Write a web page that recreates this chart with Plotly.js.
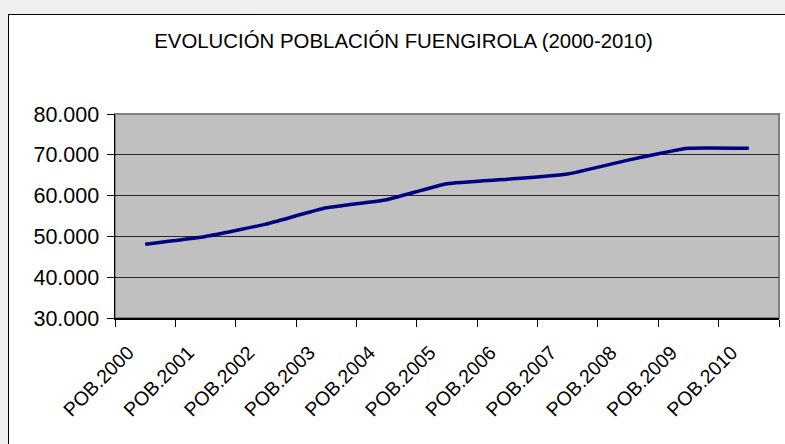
<!DOCTYPE html>
<html>
<head>
<meta charset="utf-8">
<script src="https://cdn.plot.ly/plotly-3.0.1.min.js"></script>
<style>
html, body { margin:0; padding:0; overflow:hidden; background:#f0f0f0; width:785px; height:444px; }
#frame { position:absolute; left:8px; top:14px; width:790px; height:440px; border:1px solid #000; background:#fff; }
#chart { width:790px; height:440px; }
</style>
</head>
<body>
<div id="frame"><div id="chart"></div></div>
<script>
const categories = ['POB.2000','POB.2001','POB.2002','POB.2003','POB.2004','POB.2005','POB.2006','POB.2007','POB.2008','POB.2009','POB.2010'];
const poblacion = [48100, 50000, 53000, 57000, 59000, 62900, 64000, 65300, 68700, 71600, 71600];
const yTicks = [30000, 40000, 50000, 60000, 70000, 80000];
const chartTitle = 'EVOLUCIÓN POBLACIÓN FUENGIROLA (2000-2010)';

const trace = {
  x: categories,
  y: poblacion,
  type: 'scatter',
  mode: 'lines',
  line: {color: '#000080', width: 3.5, shape: 'spline', smoothing: 0.4},
  hoverinfo: 'x+y'
};

const layout = {
  width: 790, height: 440,
  margin: {l: 106, r: 20, t: 99, b: 137, pad: 0},
  paper_bgcolor: '#ffffff',
  plot_bgcolor: '#c0c0c0',
  separators: ',.',
  showlegend: false,
  font: {family: 'Liberation Sans, Arial, sans-serif', color: '#000'},
  title: {
    text: chartTitle,
    font: {size: 20.4, color: '#000', family: 'Liberation Sans, Arial, sans-serif'},
    x: 0.4994, xref: 'container', xanchor: 'center',
    y: 0.9405, yref: 'container', yanchor: 'middle'
  },
  xaxis: {
    type: 'category',
    tickangle: -45,
    tickson: 'boundaries',
    ticks: 'outside', ticklen: 7, tickcolor: '#000', tickwidth: 1,
    showline: true, linecolor: '#000', linewidth: 1.5,
    showgrid: false, zeroline: false,
    tickfont: {size: 19.5, color: '#000', family: 'Liberation Sans, Arial, sans-serif'},
    ticklabelstandoff: 14,
    ticklabelshift: -17,
    range: [-0.5, categories.length - 0.5],
    fixedrange: true
  },
  yaxis: {
    range: [30000, 80000],
    tickvals: yTicks,
    tickformat: ',d',
    ticks: 'outside', ticklen: 7, tickcolor: '#000', tickwidth: 1,
    showline: true, linecolor: '#000', linewidth: 1.5,
    showgrid: true, gridcolor: '#262626', gridwidth: 1,
    zeroline: false,
    tickfont: {size: 21.5, color: '#000', family: 'Liberation Sans, Arial, sans-serif'},
    ticklabelstandoff: 3,
    fixedrange: true
  },
  shapes: [{
    type: 'rect', xref: 'paper', yref: 'paper', x0: 0, x1: 1, y0: 0, y1: 1,
    line: {color: '#808080', width: 2}, fillcolor: 'rgba(0,0,0,0)', layer: 'below'
  }]
};

Plotly.newPlot('chart', [trace], layout, {displayModeBar: false, staticPlot: true});
</script>
</body>
</html>
